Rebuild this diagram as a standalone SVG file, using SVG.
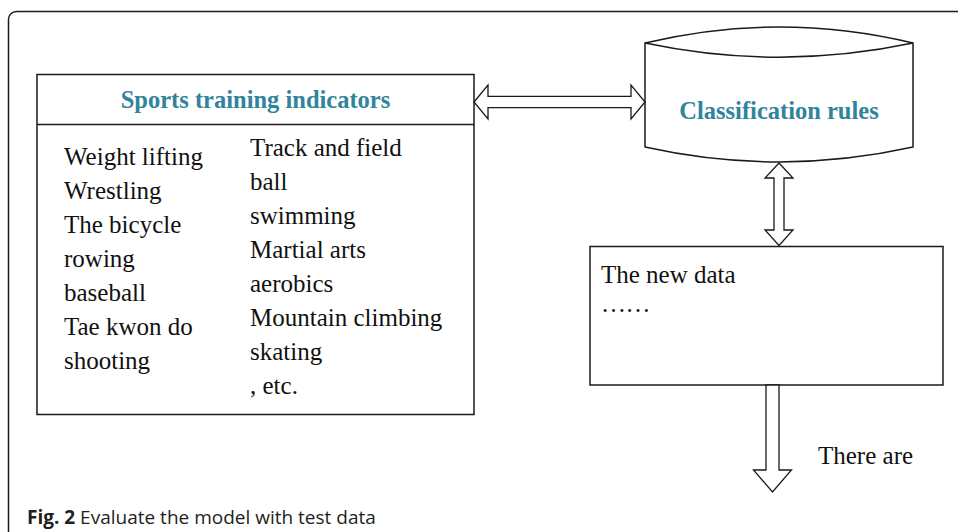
<svg xmlns="http://www.w3.org/2000/svg" width="958" height="532" viewBox="0 0 958 532">
  <style>
    .line { fill: none; stroke: #1a1a1a; stroke-width: 1.5; }
    .box { fill: #ffffff; stroke: #1a1a1a; stroke-width: 1.5; }
    .arrow { fill: #ffffff; stroke: #1a1a1a; stroke-width: 1.3; stroke-linejoin: miter; }
    .title { font-family: "Liberation Serif", "Times New Roman", serif; font-weight: bold; font-size: 24.5px; fill: #31849B; }
    .body { font-family: "Liberation Serif", "Times New Roman", serif; font-size: 25px; fill: #111111; }
    .cap { font-family: "Open Sans", "Noto Sans", sans-serif; font-size: 19px; fill: #231f20; }
  </style>
  <rect width="958" height="532" fill="#ffffff"/>

  <!-- outer frame: rounded top-left corner, open to the right and bottom -->
  <path class="line" d="M8.5,532 V19.5 A8,8 0 0 1 16.5,11.5 H958"/>

  <!-- indicator list -->
  <g id="indicators">
    <rect class="box" x="37" y="74.5" width="437" height="340"/>
    <line class="line" x1="37" y1="124.5" x2="474" y2="124.5"/>
    <text class="title" x="255.5" y="107.5" text-anchor="middle">Sports training indicators</text>
    <g class="body">
      <text x="64" y="165">Weight lifting</text>
      <text x="64" y="199">Wrestling</text>
      <text x="64" y="233">The bicycle</text>
      <text x="64" y="267">rowing</text>
      <text x="64" y="301">baseball</text>
      <text x="64" y="335">Tae kwon do</text>
      <text x="64" y="369">shooting</text>
      <text x="250" y="156">Track and field</text>
      <text x="250" y="190">ball</text>
      <text x="250" y="224">swimming</text>
      <text x="250" y="258">Martial arts</text>
      <text x="250" y="292">aerobics</text>
      <text x="250" y="326">Mountain climbing</text>
      <text x="250" y="360">skating</text>
      <text x="250" y="394">, etc.</text>
    </g>
  </g>

  <!-- classification rules store (cylinder) -->
  <g id="rules">
    <path class="box" d="M645,43 C735,21.5 823,21.5 913,43 V147 C823,167 735,167 645,147 Z"/>
    <path class="line" d="M645,43 C735,62 823,62 913,43"/>
    <text class="title" x="779" y="119" text-anchor="middle">Classification rules</text>
  </g>

  <!-- new data -->
  <g id="newdata">
    <rect class="box" x="590" y="246.5" width="353" height="138.5"/>
    <text class="body" x="601" y="283">The new data</text>
    <text class="body" x="601" y="312" letter-spacing="-0.5">……</text>
  </g>

  <!-- result label -->
  <g id="result">
    <text class="body" x="818" y="464">There are</text>
  </g>

  <!-- block arrows -->
  <g id="connectors">
    <!-- indicators <-> rules -->
    <path class="arrow" d="M474,102 L488,85 V96.3 H631 V85 L645,102 L631,119 V107.7 H488 V119 Z"/>
    <!-- rules <-> new data -->
    <path class="arrow" d="M779,163 L793,178 H784 V230 H793 L779,245.5 L765,230 H774 V178 H765 Z"/>
    <!-- new data -> output -->
    <path class="arrow" d="M766,385 H779 V470 H791.5 L772.5,492 L753.5,470 H766 Z"/>
  </g>

  <!-- caption -->
  <text class="cap" x="27" y="524"><tspan font-weight="bold">Fig. 2</tspan> Evaluate the model with test data</text>
</svg>
